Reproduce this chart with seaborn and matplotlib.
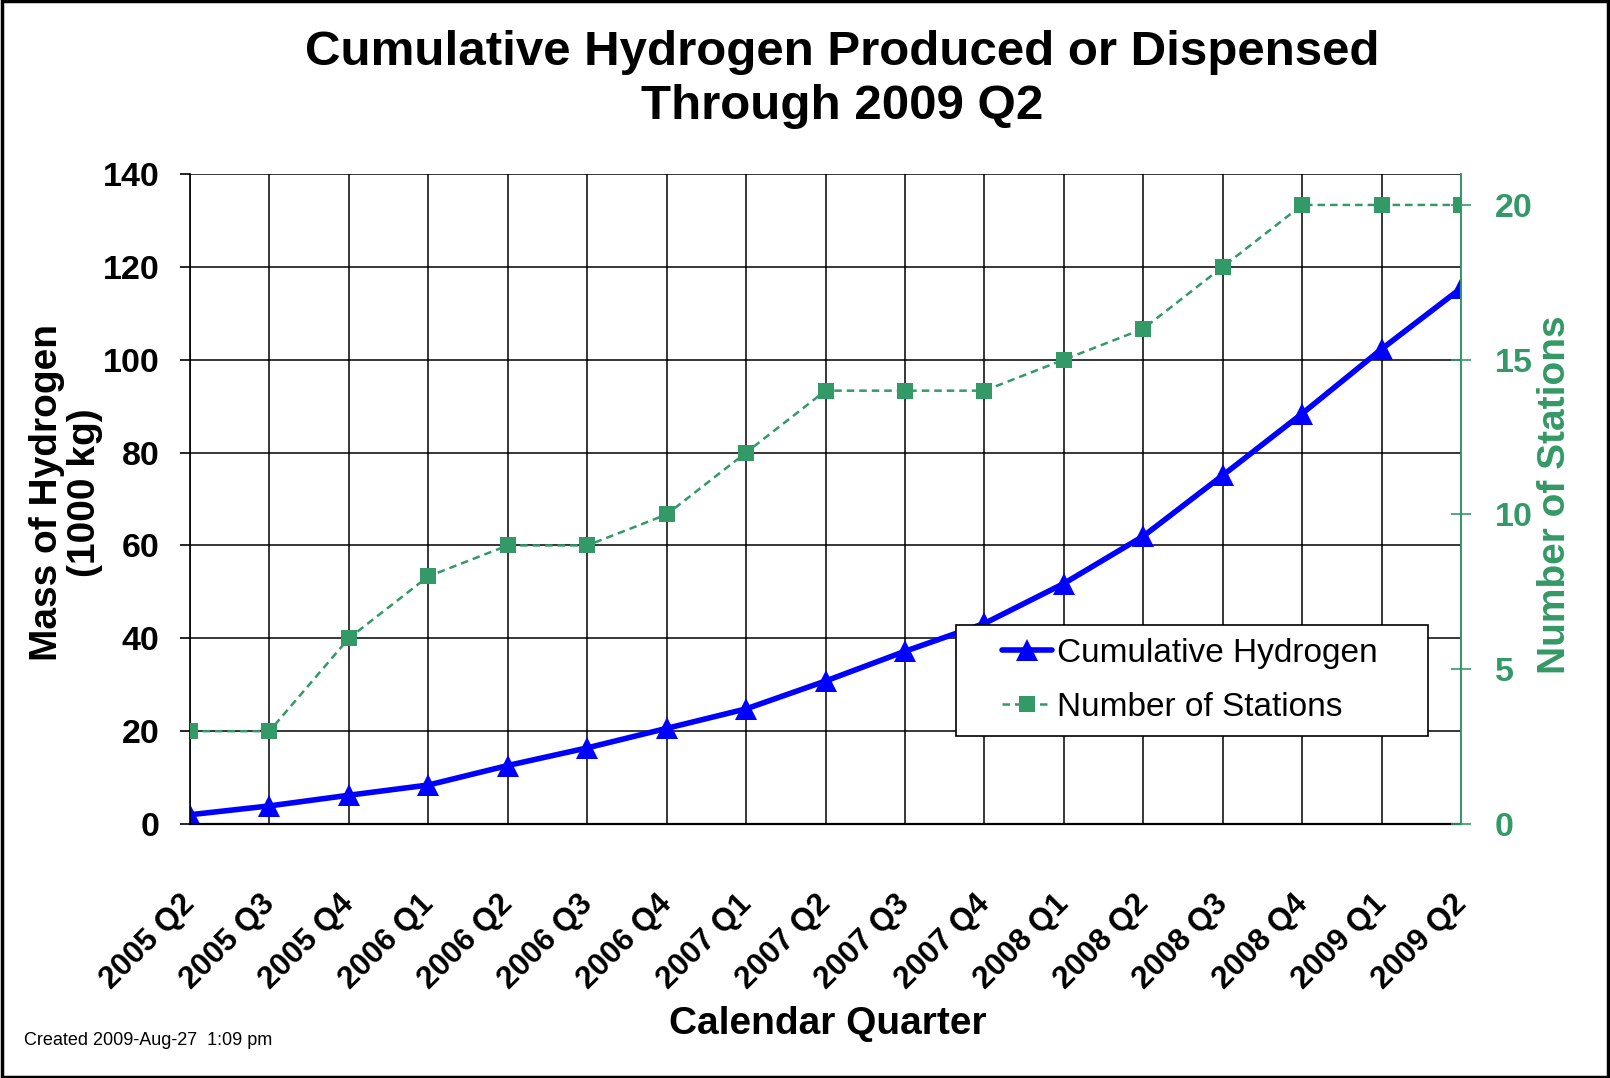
import matplotlib
matplotlib.use("Agg")
import matplotlib.pyplot as plt
import matplotlib.transforms as mtransforms
from matplotlib.legend_handler import HandlerLine2D
from matplotlib.patches import Rectangle
import seaborn as sns
import pandas as pd

# chart data
quarters = ["2005 Q2", "2005 Q3", "2005 Q4", "2006 Q1", "2006 Q2", "2006 Q3",
            "2006 Q4", "2007 Q1", "2007 Q2", "2007 Q3", "2007 Q4", "2008 Q1",
            "2008 Q2", "2008 Q3", "2008 Q4", "2009 Q1", "2009 Q2"]
hydrogen = [2.0, 3.9, 6.2, 8.4, 12.6, 16.4, 20.6, 24.8, 30.8, 37.2, 43.2,
            51.8, 62.0, 75.1, 88.4, 102.3, 115.4]
stations = [3, 3, 6, 8, 9, 9, 10, 12, 14, 14, 14, 15, 16, 18, 20, 20, 20]
left_ticks = [0, 20, 40, 60, 80, 100, 120, 140]
right_ticks = [0, 5, 10, 15, 20]

GREEN = "#339966"
BLUE = "#0000FF"

sns.set_theme(style="white")
plt.rcParams["font.family"] = ["Liberation Sans", "DejaVu Sans"]
plt.rcParams["text.color"] = "black"
plt.rcParams["axes.labelcolor"] = "black"
plt.rcParams["xtick.color"] = "black"
plt.rcParams["ytick.color"] = "black"

df = pd.DataFrame({"pos": range(len(quarters)), "quarter": quarters,
                   "hydrogen": hydrogen, "stations": stations})

fig = plt.figure(figsize=(16.1, 10.78), dpi=100)
ax = fig.add_axes([0.118, 0.2356, 0.7895, 0.603])
ax2 = ax.twinx()

sns.lineplot(data=df, x="pos", y="hydrogen", ax=ax, color=BLUE, lw=4.0,
             marker="^", markersize=16, markeredgewidth=0, sort=False,
             label="Cumulative Hydrogen    ", legend=False)
sns.lineplot(data=df, x="pos", y="stations", ax=ax2, color=GREEN, lw=1.8,
             linestyle=(0, (3, 2)), marker="s", markersize=12, markeredgewidth=0,
             sort=False, label="Number of Stations", legend=False)

# axes limits and ticks
ax.set_xlim(0, len(quarters) - 1)
ax.set_ylim(0, 140)
ax2.set_ylim(0, 21)
ax.set_yticks(left_ticks)
ax2.set_yticks(right_ticks)
ax.set_xticks(df["pos"])

ax.tick_params(axis="x", length=0, pad=47)
ax.tick_params(axis="y", direction="out", length=7.2, width=1.2, color="black",
               labelcolor="black", labelsize=24.5, pad=15)
ax2.tick_params(axis="y", direction="inout", length=15, width=1.2, color=GREEN,
                labelcolor=GREEN, labelsize=24.5, pad=17)

ax.set_xticklabels(quarters, rotation=45, ha="right", va="top",
                   rotation_mode="anchor", fontsize=22.5, fontweight="bold",
                   color="black")
# nudge the rotated labels a bit to the left (after tick_params, which resets them)
offset = mtransforms.ScaledTranslation(-0.1, 0, fig.dpi_scale_trans)
for lab in ax.get_xticklabels():
    lab.set_transform(lab.get_transform() + offset)
for lab in ax.get_yticklabels() + ax2.get_yticklabels():
    lab.set_fontweight("bold")

ax.grid(True, color="black", lw=1.1)
ax.set_axisbelow(True)

for side in ["top", "right"]:
    ax.spines[side].set_visible(False)
ax.spines["left"].set_color("black")
ax.spines["bottom"].set_color("black")
ax.spines["left"].set_linewidth(1.2)
ax.spines["bottom"].set_linewidth(1.6)
for side in ["top", "left", "bottom"]:
    ax2.spines[side].set_visible(False)
ax2.spines["right"].set_color(GREEN)
ax2.spines["right"].set_linewidth(1.4)

ax.set_xlabel("")
ax.set_ylabel("")
ax2.set_ylabel("")

# titles and labels
fig.text(0.523, 0.926, "Cumulative Hydrogen Produced or Dispensed\nThrough 2009 Q2",
         ha="center", va="center", fontsize=35.5, fontweight="bold", linespacing=1.26)
fig.text(0.514, 0.050, "Calendar Quarter", ha="center", va="center",
         fontsize=28, fontweight="bold")
fig.text(0.041, 0.543, "Mass of Hydrogen\n(1000 kg)", ha="center", va="center",
         rotation=90, fontsize=28, fontweight="bold", linespacing=1.05)
fig.text(0.966, 0.541, "Number of Stations", ha="center", va="center",
         rotation=90, fontsize=28, fontweight="bold", color=GREEN)
fig.text(0.015, 0.035, "Created 2009-Aug-27  1:09 pm", ha="left", va="center",
         fontsize=13)

# legend
h1, l1 = ax.get_legend_handles_labels()
h2, l2 = ax2.get_legend_handles_labels()
leg = ax2.legend(h1 + h2, l1 + l2, loc="upper left", bbox_to_anchor=(0.603, 0.306),
                 fontsize=24, frameon=True, fancybox=False, framealpha=1,
                 edgecolor="black", handlelength=2.5, handletextpad=0.15,
                 borderpad=0.38, labelspacing=0.7, borderaxespad=0,
                 handler_map={h: HandlerLine2D(xpad=1.0) for h in h1 + h2})
leg.get_frame().set_linewidth(1.2)

# outer border
fig.patches.append(Rectangle((0.001, 0.001), 0.998, 0.998, transform=fig.transFigure,
                             fill=False, edgecolor="black", lw=2.5))

fig.savefig("out.png", dpi=100)
